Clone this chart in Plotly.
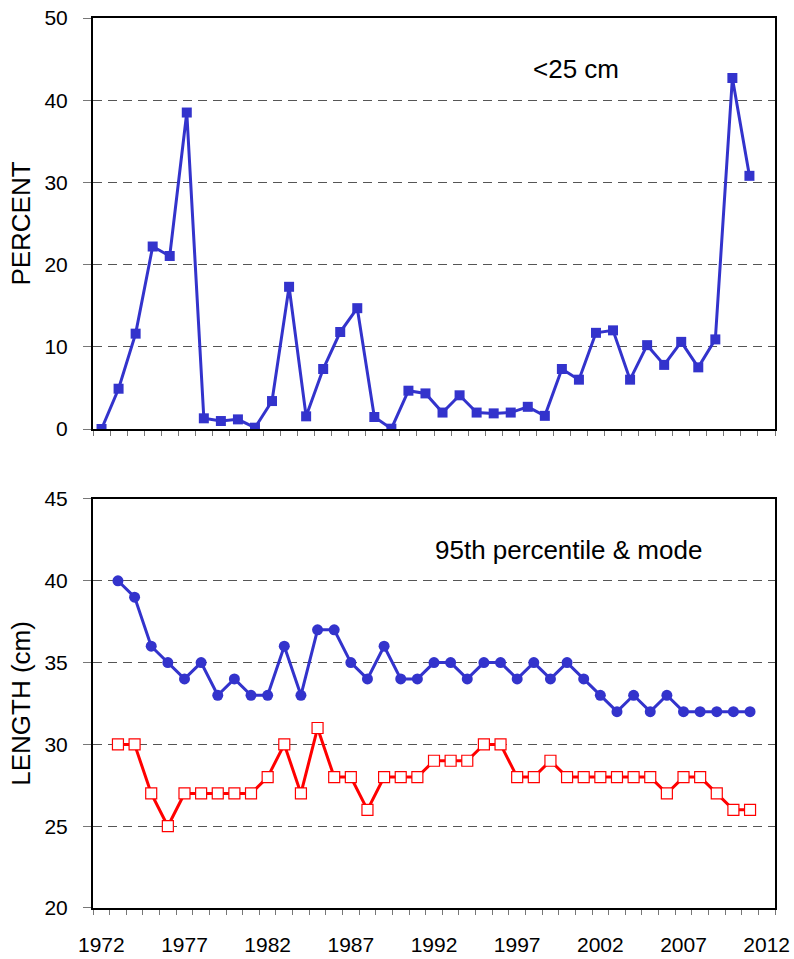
import plotly.graph_objects as go
from plotly.subplots import make_subplots

# Survey years
years = list(range(1973, 2012))

# Percentage of fish shorter than 25 cm
pct_under_25 = [0.0, 4.9, 11.6, 22.2, 21.05, 38.5, 1.3, 0.97, 1.17, 0.16,
                3.4, 17.3, 1.54, 7.3, 11.8, 14.7, 1.46, 0.04, 4.66, 4.33,
                2.0, 4.1, 2.0, 1.9, 2.0, 2.7, 1.6, 7.3, 6.0, 11.7,
                12.0, 6.0, 10.2, 7.8, 10.6, 7.5, 10.9, 42.7, 30.8]

# 95th percentile of length (cm)
p95_length = [40, 39, 36, 35, 34, 35, 33, 34, 33, 33,
              36, 33, 37, 37, 35, 34, 36, 34, 34, 35,
              35, 34, 35, 35, 34, 35, 34, 35, 34, 33,
              32, 33, 32, 33, 32, 32, 32, 32, 32]

# Modal length (cm)
mode_length = [30, 30, 27, 25, 27, 27, 27, 27, 27, 28,
               30, 27, 31, 28, 28, 26, 28, 28, 28, 29,
               29, 29, 30, 30, 28, 28, 29, 28, 28, 28,
               28, 28, 28, 27, 28, 28, 27, 26, 26]

# Labelled years on the shared time axis
year_labels = [1972, 1977, 1982, 1987, 1992, 1997, 2002, 2007, 2012]

BLUE = "#3333cc"
RED = "#ff0000"
FONT = "Liberation Sans, Arial, sans-serif"

fig = make_subplots(rows=2, cols=1, shared_xaxes=False, vertical_spacing=0.0)

fig.add_trace(go.Scatter(
    x=years, y=pct_under_25, mode="lines+markers",
    line=dict(color=BLUE, width=3),
    marker=dict(symbol="square", size=10, color=BLUE),
    showlegend=False), row=1, col=1)

fig.add_trace(go.Scatter(
    x=years, y=p95_length, mode="lines+markers",
    line=dict(color=BLUE, width=3),
    marker=dict(symbol="circle", size=11, color=BLUE),
    showlegend=False), row=2, col=1)

fig.add_trace(go.Scatter(
    x=years, y=mode_length, mode="lines+markers",
    line=dict(color=RED, width=3),
    marker=dict(symbol="square", size=11, color="white",
                line=dict(color=RED, width=1.2)),
    showlegend=False), row=2, col=1)

axis_common = dict(
    showline=True, linecolor="black", linewidth=2, mirror=True,
    zeroline=False, automargin=False,
    tickfont=dict(family=FONT, size=21, color="black"),
)

yaxis_common = dict(
    axis_common,
    ticks="outside", ticklen=8, tickcolor="#777777", tickwidth=1.2,
    showgrid=True, gridcolor="#555555", gridwidth=1, griddash="9px,6px",
    ticklabelstandoff=11,
)

title_font = dict(family=FONT, size=26, color="black")

fig.update_layout(
    width=794, height=959,
    margin=dict(l=93, r=19, t=18, b=51),
    paper_bgcolor="white", plot_bgcolor="white",
    font=dict(family=FONT, color="black"),
    xaxis=dict(
        axis_common, domain=[0, 1], anchor="y",
        range=[1972.5, 2012.5], showgrid=False,
        tickvals=[], ticks="",
        minor=dict(tickmode="linear", tick0=1972.5, dtick=1, ticks="outside",
                   ticklen=5, tickcolor="#777777", tickwidth=1.2, showgrid=False),
    ),
    xaxis2=dict(
        axis_common, domain=[0, 1], anchor="y2",
        range=[1971.5, 2012.5], showgrid=False,
        tickvals=year_labels, ticktext=[str(v) for v in year_labels],
        ticks="outside", ticklen=5, tickcolor="rgba(0,0,0,0)",
        ticklabelstandoff=12,
        minor=dict(tickmode="linear", tick0=1971.5, dtick=1, ticks="outside",
                   ticklen=5, tickcolor="#777777", tickwidth=1.2, showgrid=False),
    ),
    yaxis=dict(
        yaxis_common, domain=[0.5382, 1.0], anchor="x",
        range=[0, 50], tickvals=[0, 10, 20, 30, 40, 50],
        title=dict(text="PERCENT", font=title_font, standoff=6),
    ),
    yaxis2=dict(
        yaxis_common, domain=[0.0, 0.4596], anchor="x2",
        range=[20, 45], tickvals=[20, 25, 30, 35, 40, 45],
        title=dict(text="LENGTH (cm)", font=title_font, standoff=6),
    ),
    annotations=[
        dict(text="<25 cm", x=2000.8, y=43.8, xref="x", yref="y",
             showarrow=False, font=dict(family=FONT, size=26, color="black")),
        dict(text="95th percentile & mode", x=2000.1, y=41.9, xref="x2", yref="y2",
             showarrow=False, font=dict(family=FONT, size=26, color="black")),
    ],
)

fig.write_html("out.html")
